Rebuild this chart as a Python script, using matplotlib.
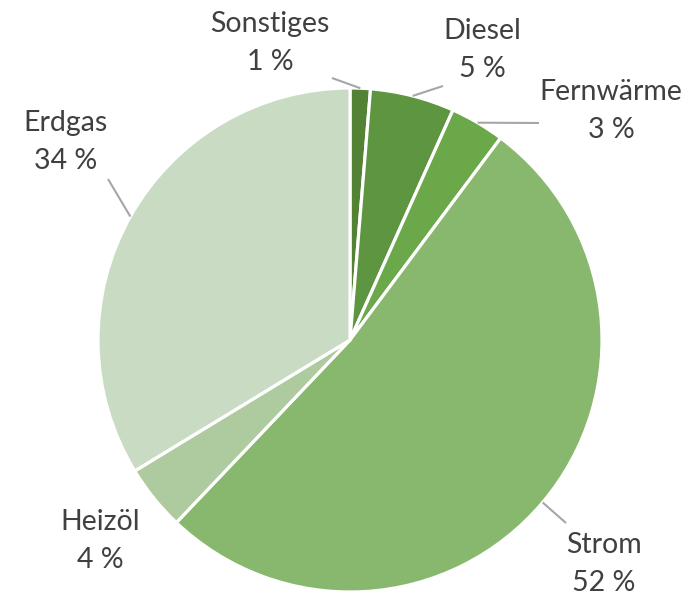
import numpy as np
import matplotlib.pyplot as plt

# Anteile (geschaetzt aus dem Bild) und angezeigte Prozentwerte
categories = ["Sonstiges", "Diesel", "Fernwärme", "Strom", "Heizöl", "Erdgas"]
shares = [1.3, 5.4, 3.5, 51.9, 4.2, 33.7]
shown_pct = [1, 5, 3, 52, 4, 34]
colors = ["#548235", "#5e9540", "#6aa84a", "#88b86e", "#aecb9f", "#c9dcc3"]

# Layout in Pixeln (Figur 689x597, y von oben)
W, H = 689, 597
cx, cy, R = 350, 340, 252
label_pos = [(270, 24), (482, 31), (611, 92), (604, 545), (100, 522), (66, 123)]
line_end = [(332, 78), (443, 86), (539, 123), (566, 523), None, (108, 179)]

plt.rcParams['font.family'] = ['Lato', 'DejaVu Sans']

fig = plt.figure(figsize=(W / 100, H / 100), dpi=100)
ax = fig.add_axes([0, 0, 1, 1])

wedges, _ = ax.pie(shares, colors=colors, startangle=90, counterclock=False,
                   center=(cx, H - cy), radius=R,
                   wedgeprops=dict(edgecolor='white', linewidth=2.3))
# pie setzt eigene Grenzen, daher danach
ax.set_xlim(0, W)
ax.set_ylim(0, H)
ax.set_aspect('equal')
ax.axis('off')

cum = np.cumsum([0] + shares[:-1])
total = sum(shares)
for i, name in enumerate(categories):
    mid = (cum[i] + shares[i] / 2) / total * 2 * np.pi
    sx = cx + R * np.sin(mid)
    sy = cy - R * np.cos(mid)
    if line_end[i] is not None:
        ex, ey = line_end[i]
        ax.plot([sx, ex], [H - sy, H - ey], color='#a6a6a6', lw=1.5,
                solid_capstyle='butt')
    lx, ly = label_pos[i]
    ax.text(lx, H - ly, name, ha='center', va='center', fontsize=20.5,
            color='#404040')
    ax.text(lx, H - ly - 38, f"{shown_pct[i]} %", ha='center', va='center',
            fontsize=20.5, color='#404040')

fig.savefig('out.png', dpi=100)
